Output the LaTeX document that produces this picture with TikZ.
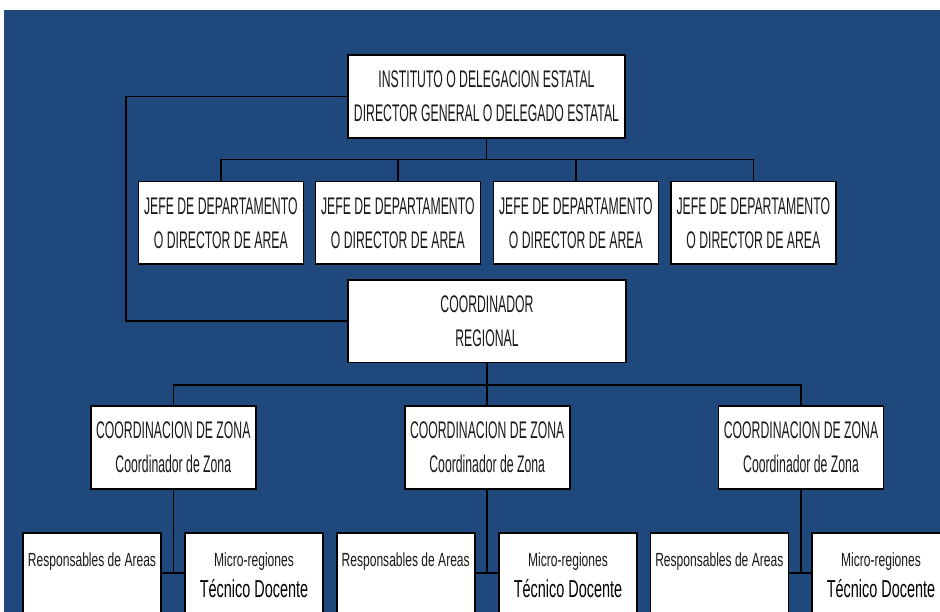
\documentclass[tikz,border=0pt]{standalone}
\usepackage{fontspec}
\setmainfont{Liberation Sans}
\newfontfamily\capsfont[FakeStretch=0.51]{Liberation Sans}
\newfontfamily\smallfont[FakeStretch=0.635]{Liberation Sans}
\newfontfamily\tecfont[FakeStretch=0.59]{Liberation Sans}
\definecolor{bgblue}{HTML}{1F497D}
\begin{document}
\begin{tikzpicture}[x=1pt,y=-1pt,
  box/.style={draw=black, line width=1.6pt, fill=white, inner sep=0pt, align=center, text=black!90,
    font=\capsfont\fontsize{24}{34}\selectfont},
  jefebox/.style={box, minimum width=165pt, minimum height=82.6pt},
  zonebox/.style={box, minimum width=165pt, minimum height=83pt},
  lowbox/.style={draw=black, line width=1.6pt, fill=white, minimum width=138pt, minimum height=117.3pt, inner sep=0pt},
  conn/.style={draw=black, line width=1.6pt},
  lowtxt/.style={anchor=base, inner sep=0pt, text=black!90, font=\smallfont\fontsize{19}{22}\selectfont},
  tectxt/.style={anchor=base, inner sep=0pt, text=black, font=\tecfont\fontsize{24.5}{28}\selectfont}]
\useasboundingbox (0,0) rectangle (940,612);
\clip (0,0) rectangle (940,612);
\fill[white] (0,0) rectangle (940,612);
\fill[bgblue] (4,10) rectangle (940,612);

% top
\node[box, minimum width=277pt, minimum height=83pt] (top) at (486.5,96.5)
  {INSTITUTO O DELEGACION ESTATAL\\DIRECTOR GENERAL O DELEGADO ESTATAL};

% jefes
\node[jefebox] (j1) at (220.8,223) {JEFE DE DEPARTAMENTO\\O DIRECTOR DE AREA};
\node[jefebox] (j2) at (397.8,223) {JEFE DE DEPARTAMENTO\\O DIRECTOR DE AREA};
\node[jefebox] (j3) at (575.8,223) {JEFE DE DEPARTAMENTO\\O DIRECTOR DE AREA};
\node[jefebox] (j4) at (753.3,223) {JEFE DE DEPARTAMENTO\\O DIRECTOR DE AREA};

% coordinador regional
\node[box, minimum width=277.7pt, minimum height=82.7pt] (coord) at (487,321.3)
  {COORDINADOR\\REGIONAL};

% zonas
\node[zonebox] (z1) at (173.3,447.5) {COORDINACION DE ZONA\\Coordinador de Zona};
\node[zonebox] (z2) at (487.2,447.5) {COORDINACION DE ZONA\\Coordinador de Zona};
\node[zonebox] (z3) at (801,447.5) {COORDINACION DE ZONA\\Coordinador de Zona};

% bottom boxes
\node[lowbox] (r1) at (92,591.35) {};
\node[lowbox] (m1) at (254,591.35) {};
\node[lowbox] (r2) at (405.7,591.35) {};
\node[lowbox] (m2) at (568,591.35) {};
\node[lowbox] (r3) at (719.3,591.35) {};
\node[lowbox] (m3) at (881,591.35) {};

\node[lowtxt] (rt1) at (92,566.7) {Responsables de Areas};
\node[lowtxt] (rt2) at (405.7,566.7) {Responsables de Areas};
\node[lowtxt] (rt3) at (719.3,566.7) {Responsables de Areas};
\node[lowtxt] (mt1) at (254,566.7) {Micro-regiones};
\node[lowtxt] (mt2) at (568,566.7) {Micro-regiones};
\node[lowtxt] (mt3) at (881,566.7) {Micro-regiones};
\node[tectxt] (tt1) at (254,597.3) {Técnico Docente};
\node[tectxt] (tt2) at (568,597.3) {Técnico Docente};
\node[tectxt] (tt3) at (881,597.3) {Técnico Docente};

% connectors
\coordinate (h1) at (0,159.5);
\coordinate (h2) at (0,385);
\coordinate (h3) at (0,572.7);
\coordinate (lc) at (125.7,0);

\draw[conn] (top.south) -- (top.south |- h1);
\draw[conn, line cap=rect] (j1.north |- h1) -- (j4.north |- h1);
\foreach \i in {1,...,4} \draw[conn] (j\i.north |- h1) -- (j\i.north);

\draw[conn] (top.west) -| (lc |- coord.west) -- (coord.west);

\draw[conn] (coord.south) -- (coord.south |- h2);
\draw[conn, line cap=rect] (z1.north |- h2) -- (z3.north |- h2);
\foreach \i in {1,2,3} \draw[conn] (z\i.north |- h2) -- (z\i.north);

\foreach \i in {1,2,3} {
  \draw[conn] (z\i.south) -- (z\i.south |- h3);
  \draw[conn] (r\i.east |- h3) -- (m\i.west |- h3);
}
\end{tikzpicture}
\end{document}
